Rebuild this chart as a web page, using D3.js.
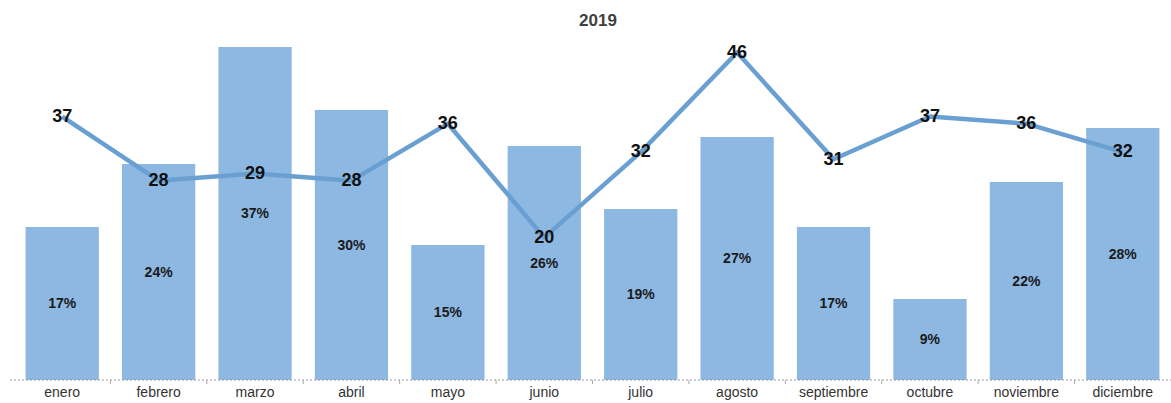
<!DOCTYPE html>
<html>
<head>
<meta charset="utf-8">
<script src="https://cdn.jsdelivr.net/npm/d3@7"></script>
<style>
  html, body { margin: 0; padding: 0; background: #ffffff; }
  svg { display: block; }
</style>
</head>
<body>
<svg id="chart" width="1171" height="403"></svg>
<script>
const months = ["enero","febrero","marzo","abril","mayo","junio","julio","agosto","septiembre","octubre","noviembre","diciembre"];
const percentValues = [17, 24, 37, 30, 15, 26, 19, 27, 17, 9, 22, 28];
const countValues = [37, 28, 29, 28, 36, 20, 32, 46, 31, 37, 36, 32];
const subtitle = "2019";

const W = 1171, H = 403;
const margin = { left: 14, right: 0, top: 20, bottom: 23 };
const baseY = H - margin.bottom;
const FONT = "'Liberation Sans Narrow', 'Arial Narrow', 'Liberation Sans', Arial, sans-serif";

const svg = d3.select("#chart");

const x = d3.scaleBand().domain(months).range([margin.left, W - margin.right]).paddingInner(0.24).paddingOuter(0.12);
const yBar = d3.scaleLinear().domain([0, 40]).range([baseY, margin.top]);
const yLine = d3.scaleLinear().domain([0, 50]).range([baseY, margin.top + 4]);

// subtitle
svg.append("text")
  .attr("x", 598).attr("y", 26)
  .attr("text-anchor", "middle")
  .attr("font-family", FONT)
  .attr("font-weight", "bold").attr("font-size", 17)
  .attr("fill", "#404040")
  .text(subtitle);

// bars
svg.append("g").selectAll("rect").data(months).join("rect")
  .attr("x", d => x(d))
  .attr("width", x.bandwidth())
  .attr("y", (d, i) => yBar(percentValues[i]))
  .attr("height", (d, i) => baseY - yBar(percentValues[i]))
  .attr("fill", "#8db8e2");

// bar labels
svg.append("g").selectAll("text").data(months).join("text")
  .attr("x", d => x(d) + x.bandwidth() / 2)
  .attr("y", (d, i) => (yBar(percentValues[i]) + baseY) / 2)
  .attr("dy", "0.35em")
  .attr("text-anchor", "middle")
  .attr("font-family", FONT)
  .attr("font-weight", "bold").attr("font-size", 14)
  .attr("fill", "#1a1a1a")
  .text((d, i) => percentValues[i] + "%");

// axis
const axis = d3.axisBottom(x).tickSize(0).tickPadding(7);
const ag = svg.append("g").attr("transform", `translate(0,${baseY})`).call(axis);
ag.select(".domain").attr("stroke", "#999").attr("stroke-dasharray", "2,2").attr("d", `M${margin.left - 4},0H${W}`);
ag.selectAll("text")
  .attr("font-family", FONT)
  .attr("font-size", 14).attr("fill", "#333");
// small tick marks at band boundaries
const bounds = months.slice(1).map(m => x(m) - x.step() * x.paddingInner() / 2);
ag.selectAll(".bnd").data(bounds).join("line").attr("class", "bnd")
  .attr("x1", d => d).attr("x2", d => d).attr("y1", 0).attr("y2", 4)
  .attr("stroke", "#aaa");

// line
const line = d3.line()
  .x((d, i) => x(months[i]) + x.bandwidth() / 2)
  .y(d => yLine(d));
svg.append("path").datum(countValues)
  .attr("d", line)
  .attr("fill", "none")
  .attr("stroke", "#6a9fd2")
  .attr("stroke-width", 4.5)
  .attr("stroke-linejoin", "round");

// line labels
svg.append("g").selectAll("text").data(countValues).join("text")
  .attr("x", (d, i) => x(months[i]) + x.bandwidth() / 2)
  .attr("y", d => yLine(d) - 1)
  .attr("dy", "0.35em")
  .attr("text-anchor", "middle")
  .attr("font-family", FONT)
  .attr("font-weight", "bold").attr("font-size", 18)
  .attr("fill", "#111")
  .text(d => d);
</script>
</body>
</html>
